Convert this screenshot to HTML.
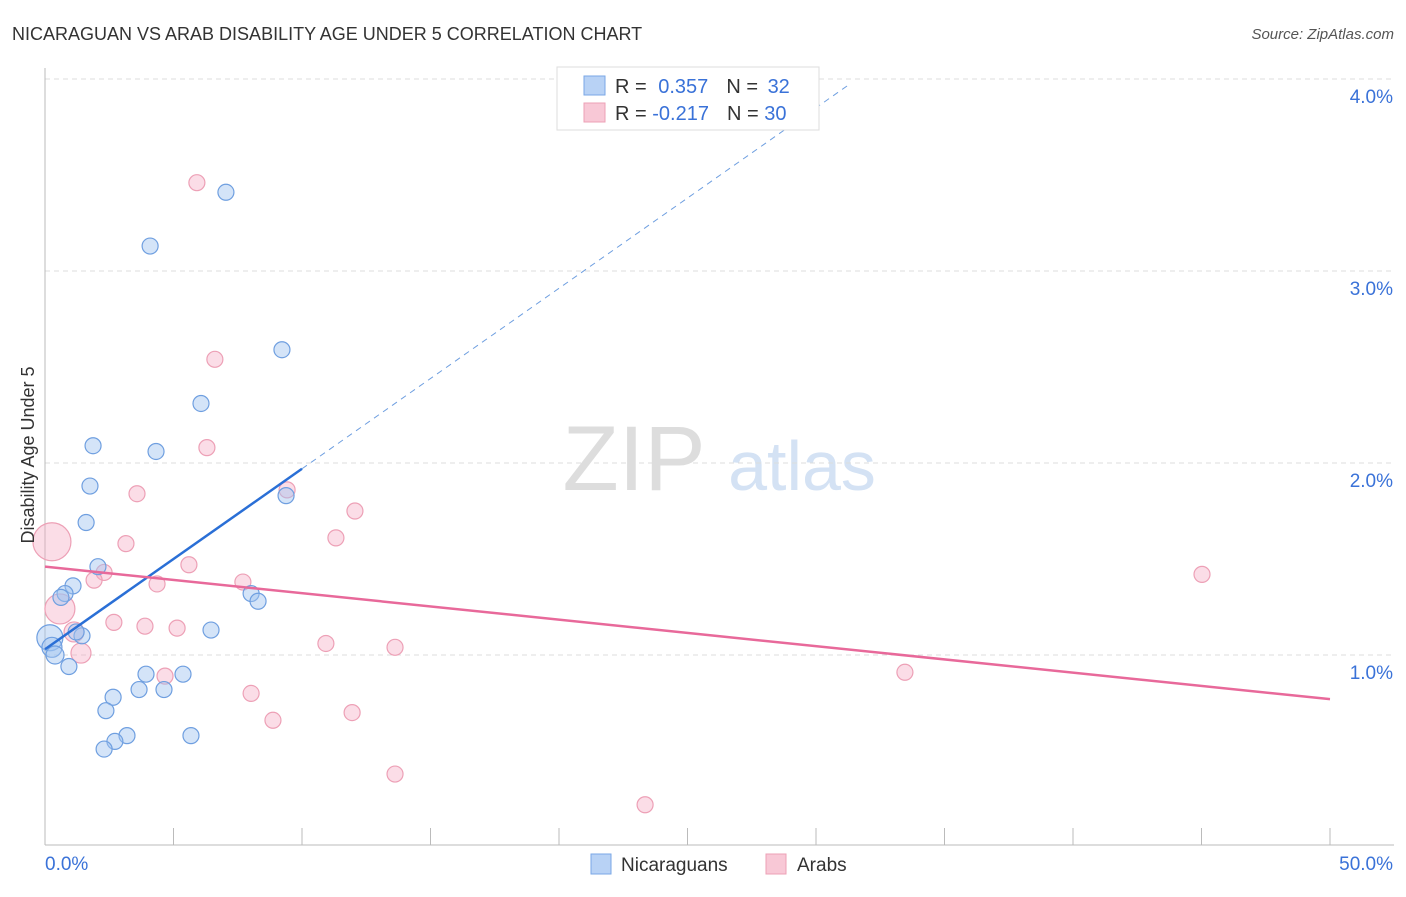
<!DOCTYPE html>
<html><head><meta charset="utf-8"><style>
body{margin:0;background:#fff;font-family:"Liberation Sans",sans-serif;}
svg text{font-family:"Liberation Sans",sans-serif;}
</style></head><body>
<svg id="chart" width="1406" height="892" xmlns="http://www.w3.org/2000/svg">
<text x="12" y="40" font-size="18" fill="#333">NICARAGUAN VS ARAB DISABILITY AGE UNDER 5 CORRELATION CHART</text>
<text x="1394" y="39" font-size="15" fill="#555" font-style="italic" text-anchor="end">Source: ZipAtlas.com</text>
<g>
<text x="634" y="490" font-size="92" fill="#ddd" font-family="Liberation Serif" text-anchor="middle">ZIP</text>
<text x="802" y="490" font-size="70" fill="#d4e2f4" text-anchor="middle">atlas</text>
</g>
<g id="grid"></g>
<g id="axes"></g>
<g id="points"></g>
<g id="trends"></g>
<text transform="translate(34,455) rotate(-90)" font-size="18" fill="#333" text-anchor="middle">Disability Age Under 5</text>
<g>
<rect x="557" y="67" width="262" height="63" fill="#fff" stroke="#ddd"/>
<rect x="584" y="76" width="21" height="19" fill="#b8d2f5" stroke="#7aa7e6"/>
<rect x="584" y="103" width="21" height="19" fill="#f8c8d6" stroke="#eda0b6"/>
<text x="615" y="93" font-size="20" fill="#333">R = <tspan fill="#3a72d8" dx="6">0.357</tspan><tspan dx="18" fill="#333">N = </tspan><tspan fill="#3a72d8" dx="4">32</tspan></text>
<text x="615" y="120" font-size="20" fill="#333">R = <tspan fill="#3a72d8">-0.217</tspan><tspan dx="18" fill="#333">N = </tspan><tspan fill="#3a72d8">30</tspan></text>
</g>
<g>
<rect x="591" y="854" width="20" height="20" fill="#b8d2f5" stroke="#7aa7e6"/>
<text x="621" y="871" font-size="19" fill="#333">Nicaraguans</text>
<rect x="766" y="854" width="20" height="20" fill="#f8c8d6" stroke="#eda0b6"/>
<text x="797" y="871" font-size="19" fill="#333">Arabs</text>
</g>
</svg>
<script>
const blueX=[7.04,4.09,9.22,6.07,1.87,4.32,1.75,9.38,1.60,2.06,1.09,0.78,0.62,8.02,8.29,6.46,1.44,1.21,0.19,0.27,0.39,0.93,5.37,3.93,4.63,3.66,2.65,2.37,3.19,2.72,2.30,5.68];
const blueY=[3.41,3.13,2.59,2.31,2.09,2.06,1.88,1.83,1.69,1.46,1.36,1.32,1.30,1.32,1.28,1.13,1.10,1.12,1.09,1.04,1.00,0.94,0.90,0.90,0.82,0.82,0.78,0.71,0.58,0.55,0.51,0.58];
const blueR=[8,8,8,8,8,8,8,8,8,8,8,8,8,8,8,8,8,8,13,10,9,8,8,8,8,8,8,8,8,8,8,8];
const pinkX=[5.91,6.61,6.30,3.58,9.42,12.06,11.32,3.15,0.27,5.60,2.30,1.91,4.36,7.70,45.02,0.58,2.68,3.89,5.14,1.13,10.93,13.62,1.40,4.67,33.46,8.02,11.95,8.87,13.62,23.35];
const pinkY=[3.46,2.54,2.08,1.84,1.86,1.75,1.61,1.58,1.59,1.47,1.43,1.39,1.37,1.38,1.42,1.24,1.17,1.15,1.14,1.12,1.06,1.04,1.01,0.89,0.91,0.80,0.70,0.66,0.38,0.22];
const pinkR=[8,8,8,8,8,8,8,8,19,8,8,8,8,8,8,15,8,8,8,10,8,8,10,8,8,8,8,8,8,8];
const yTicks=[1,2,3,4];
const yTickLabels=["1.0%","2.0%","3.0%","4.0%"];
const xTicks=[0,5,10,15,20,25,30,35,40,45,50];
const blueTrend=[1.03,0.094];
const pinkTrend=[1.46,-0.0138];
const X=v=>45+v*25.7, Y=v=>847-v*192;
const NS="http://www.w3.org/2000/svg";
function mk(t,a,p){const e=document.createElementNS(NS,t);for(const k in a)e.setAttribute(k,a[k]);p.appendChild(e);return e;}
const grid=document.getElementById('grid'),axes=document.getElementById('axes'),pts=document.getElementById('points'),tr=document.getElementById('trends');
yTicks.forEach((v,i)=>{
 const l=mk('line',{x1:45,x2:1394,y1:Y(v),y2:Y(v),stroke:'#ddd','stroke-dasharray':'5,4'},grid);
 
 
 const t=mk('text',{x:1393,y:Y(v)+24,'font-size':19,fill:'#3a72d8','text-anchor':'end'},axes);
 t.textContent=yTickLabels[i];
 
 
});
const ax=mk('line',{x1:45,x2:1394,y1:845,y2:845,stroke:'#bbb'},axes);


const ay=mk('line',{x1:45,x2:45,y1:68,y2:845,stroke:'#bbb'},axes);


xTicks.forEach(v=>{
 const l=mk('line',{x1:X(v),x2:X(v),y1:828,y2:845,stroke:'#bbb'},axes);
 
 
});
const x0=mk('text',{x:45,y:870,'font-size':19,fill:'#3a72d8'},axes);x0.textContent='0.0%';


const x1=mk('text',{x:1393,y:870,'font-size':19,fill:'#3a72d8','text-anchor':'end'},axes);x1.textContent='50.0%';


pinkX.forEach((v,i)=>{
 const c=mk('circle',{cx:X(v),cy:Y(pinkY[i]),r:pinkR[i],fill:'rgba(245,170,195,0.4)',stroke:'#eda0b6','stroke-width':1.2},pts);
 
 
});
blueX.forEach((v,i)=>{
 const c=mk('circle',{cx:X(v),cy:Y(blueY[i]),r:blueR[i],fill:'rgba(160,195,240,0.45)',stroke:'#6f9fe0','stroke-width':1.2},pts);
 
 
});
const bf=x=>blueTrend[0]+blueTrend[1]*x, pf=x=>pinkTrend[0]+pinkTrend[1]*x;
const bd=mk('line',{x1:X(10),y1:Y(bf(10)),x2:X(31.3),y2:Y(bf(31.3)),stroke:'#6f9fe0','stroke-dasharray':'6,5','stroke-width':1},tr);


const bs=mk('line',{x1:X(0),y1:Y(bf(0)),x2:X(10),y2:Y(bf(10)),stroke:'#2a6fd6','stroke-width':2.5},tr);


const ps=mk('line',{x1:X(0),y1:Y(pf(0)),x2:X(50),y2:Y(pf(50)),stroke:'#e8699a','stroke-width':2.5},tr);


</script>
</body></html>
